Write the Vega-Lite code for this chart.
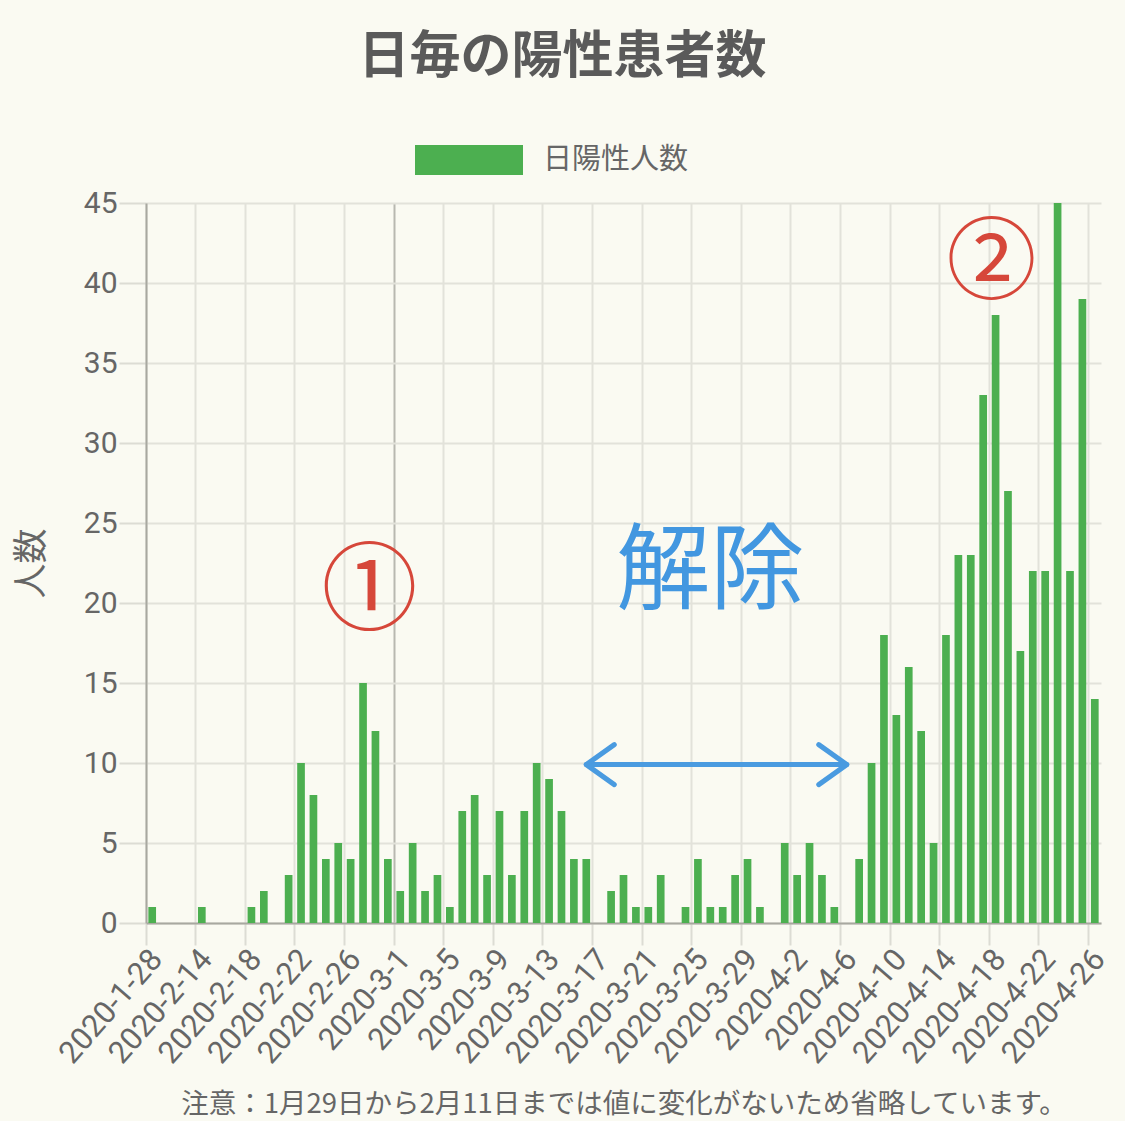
{
  "$schema": "https://vega.github.io/schema/vega-lite/v6.json",
  "width": 955,
  "height": 720,
  "autosize": {"type": "none"},
  "padding": {"left": 146, "top": 203, "right": 24, "bottom": 198},
  "background": "#FAFAF2",
  "title": {
    "text": "日毎の陽性患者数",
    "font": "Noto Sans CJK JP",
    "fontSize": 51,
    "fontWeight": "bold",
    "color": "#5A5A5A",
    "anchor": "middle",
    "frame": "bounds",
    "baseline": "alphabetic",
    "offset": 6
  },
  "config": {
    "view": {"stroke": null},
    "font": "Roboto, Noto Sans CJK JP"
  },
  "layer": [
    {
      "data": {
        "values": [
          {"date": "2020-1-28", "count": 1},
          {"date": "2020-2-11", "count": 0},
          {"date": "2020-2-12", "count": 0},
          {"date": "2020-2-13", "count": 0},
          {"date": "2020-2-14", "count": 1},
          {"date": "2020-2-15", "count": 0},
          {"date": "2020-2-16", "count": 0},
          {"date": "2020-2-17", "count": 0},
          {"date": "2020-2-18", "count": 1},
          {"date": "2020-2-19", "count": 2},
          {"date": "2020-2-20", "count": 0},
          {"date": "2020-2-21", "count": 3},
          {"date": "2020-2-22", "count": 10},
          {"date": "2020-2-23", "count": 8},
          {"date": "2020-2-24", "count": 4},
          {"date": "2020-2-25", "count": 5},
          {"date": "2020-2-26", "count": 4},
          {"date": "2020-2-27", "count": 15},
          {"date": "2020-2-28", "count": 12},
          {"date": "2020-2-29", "count": 4},
          {"date": "2020-3-1", "count": 2},
          {"date": "2020-3-2", "count": 5},
          {"date": "2020-3-3", "count": 2},
          {"date": "2020-3-4", "count": 3},
          {"date": "2020-3-5", "count": 1},
          {"date": "2020-3-6", "count": 7},
          {"date": "2020-3-7", "count": 8},
          {"date": "2020-3-8", "count": 3},
          {"date": "2020-3-9", "count": 7},
          {"date": "2020-3-10", "count": 3},
          {"date": "2020-3-11", "count": 7},
          {"date": "2020-3-12", "count": 10},
          {"date": "2020-3-13", "count": 9},
          {"date": "2020-3-14", "count": 7},
          {"date": "2020-3-15", "count": 4},
          {"date": "2020-3-16", "count": 4},
          {"date": "2020-3-17", "count": 0},
          {"date": "2020-3-18", "count": 2},
          {"date": "2020-3-19", "count": 3},
          {"date": "2020-3-20", "count": 1},
          {"date": "2020-3-21", "count": 1},
          {"date": "2020-3-22", "count": 3},
          {"date": "2020-3-23", "count": 0},
          {"date": "2020-3-24", "count": 1},
          {"date": "2020-3-25", "count": 4},
          {"date": "2020-3-26", "count": 1},
          {"date": "2020-3-27", "count": 1},
          {"date": "2020-3-28", "count": 3},
          {"date": "2020-3-29", "count": 4},
          {"date": "2020-3-30", "count": 1},
          {"date": "2020-3-31", "count": 0},
          {"date": "2020-4-1", "count": 5},
          {"date": "2020-4-2", "count": 3},
          {"date": "2020-4-3", "count": 5},
          {"date": "2020-4-4", "count": 3},
          {"date": "2020-4-5", "count": 1},
          {"date": "2020-4-6", "count": 0},
          {"date": "2020-4-7", "count": 4},
          {"date": "2020-4-8", "count": 10},
          {"date": "2020-4-9", "count": 18},
          {"date": "2020-4-10", "count": 13},
          {"date": "2020-4-11", "count": 16},
          {"date": "2020-4-12", "count": 12},
          {"date": "2020-4-13", "count": 5},
          {"date": "2020-4-14", "count": 18},
          {"date": "2020-4-15", "count": 23},
          {"date": "2020-4-16", "count": 23},
          {"date": "2020-4-17", "count": 33},
          {"date": "2020-4-18", "count": 38},
          {"date": "2020-4-19", "count": 27},
          {"date": "2020-4-20", "count": 17},
          {"date": "2020-4-21", "count": 22},
          {"date": "2020-4-22", "count": 22},
          {"date": "2020-4-23", "count": 45},
          {"date": "2020-4-24", "count": 22},
          {"date": "2020-4-25", "count": 39},
          {"date": "2020-4-26", "count": 14}
        ]
      },
      "mark": {"type": "bar", "width": {"band": 0.62}},
      "encoding": {
        "x": {
          "field": "date",
          "type": "nominal",
          "sort": null,
          "scale": {
            "paddingInner": 0,
            "paddingOuter": 0,
            "domain": ["2020-1-28","2020-2-11","2020-2-12","2020-2-13","2020-2-14","2020-2-15","2020-2-16","2020-2-17","2020-2-18","2020-2-19","2020-2-20","2020-2-21","2020-2-22","2020-2-23","2020-2-24","2020-2-25","2020-2-26","2020-2-27","2020-2-28","2020-2-29","2020-3-1","2020-3-2","2020-3-3","2020-3-4","2020-3-5","2020-3-6","2020-3-7","2020-3-8","2020-3-9","2020-3-10","2020-3-11","2020-3-12","2020-3-13","2020-3-14","2020-3-15","2020-3-16","2020-3-17","2020-3-18","2020-3-19","2020-3-20","2020-3-21","2020-3-22","2020-3-23","2020-3-24","2020-3-25","2020-3-26","2020-3-27","2020-3-28","2020-3-29","2020-3-30","2020-3-31","2020-4-1","2020-4-2","2020-4-3","2020-4-4","2020-4-5","2020-4-6","2020-4-7","2020-4-8","2020-4-9","2020-4-10","2020-4-11","2020-4-12","2020-4-13","2020-4-14","2020-4-15","2020-4-16","2020-4-17","2020-4-18","2020-4-19","2020-4-20","2020-4-21","2020-4-22","2020-4-23","2020-4-24","2020-4-25","2020-4-26"]
          },
          "axis": {
            "values": ["2020-1-28","2020-2-14","2020-2-18","2020-2-22","2020-2-26","2020-3-1","2020-3-5","2020-3-9","2020-3-13","2020-3-17","2020-3-21","2020-3-25","2020-3-29","2020-4-2","2020-4-6","2020-4-10","2020-4-14","2020-4-18","2020-4-22","2020-4-26"],
            "bandPosition": 0,
            "labelAngle": -49,
            "labelAlign": "right",
            "labelBaseline": "middle",
            "labelFont": "Roboto",
            "labelFontSize": 31,
            "labelColor": "#666666",
            "labelOffset": 5,
            "labelPadding": 9,
            "labelOverlap": false,
            "tickSize": 22,
            "tickColor": "#dcdcd4",
            "tickWidth": 2,
            "domainColor": "#a8a8a0",
            "domainWidth": 2,
            "grid": true,
            "gridColor": {"condition": {"test": "datum.value === '2020-3-1'", "value": "#b8b8b0"}, "value": "#e2e2da"},
            "gridWidth": 2,
            "title": "注意：1月29日から2月11日までは値に変化がないため省略しています。",
            "titleFont": "Noto Sans CJK JP",
            "titleFontSize": 27.5,
            "titleFontWeight": "normal",
            "titleColor": "#666666",
            "titlePadding": 22
          }
        },
        "y": {
          "field": "count",
          "type": "quantitative",
          "scale": {"domain": [0, 45], "nice": false},
          "axis": {
            "values": [0, 5, 10, 15, 20, 25, 30, 35, 40, 45],
            "labelFont": "Roboto",
            "labelFontSize": 30,
            "labelColor": "#666666",
            "labelPadding": 2,
            "tickSize": 27,
            "tickColor": "#dcdcd4",
            "tickWidth": 2,
            "domainColor": "#a8a8a0",
            "domainWidth": 2,
            "grid": true,
            "gridColor": "#e2e2da",
            "gridWidth": 2,
            "title": "人数",
            "titleFont": "Noto Sans CJK JP",
            "titleFontSize": 35,
            "titleFontWeight": "normal",
            "titleColor": "#666666",
            "titlePadding": 34
          }
        },
        "color": {
          "datum": "日陽性人数",
          "scale": {"range": ["#4CAF50"]},
          "legend": {
            "title": null,
            "orient": "none",
            "legendX": 293,
            "legendY": -73,
            "padding": 0,
            "symbolType": "M-1.8,-0.5H1.8V0.5H-1.8Z",
            "symbolSize": 3600,
            "symbolStrokeWidth": 0,
            "symbolOpacity": 1,
            "labelFont": "Noto Sans CJK JP",
            "labelFontSize": 29,
            "labelColor": "#666666",
            "labelOffset": 44
          }
        }
      }
    },
    {
      "data": {"values": [{"date": "2020-2-28", "count": 20.6, "t": "①"}]},
      "mark": {"type": "text", "font": "Noto Sans CJK JP", "fontSize": 96, "color": "#D6473A", "baseline": "middle", "align": "center", "dx": -6},
      "encoding": {
        "x": {"field": "date", "type": "nominal", "sort": null},
        "y": {"field": "count", "type": "quantitative"},
        "text": {"field": "t"}
      }
    },
    {
      "data": {"values": [{"date": "2020-4-18", "count": 41.1, "t": "②"}]},
      "mark": {"type": "text", "font": "Noto Sans CJK JP", "fontSize": 90, "color": "#D6473A", "baseline": "middle", "align": "center", "dx": -4},
      "encoding": {
        "x": {"field": "date", "type": "nominal", "sort": null},
        "y": {"field": "count", "type": "quantitative"},
        "text": {"field": "t"}
      }
    },
    {
      "data": {"values": [{"date": "2020-3-26", "count": 21.8, "t": "解除"}]},
      "mark": {"type": "text", "font": "Noto Sans CJK JP", "fontSize": 94, "color": "#4297E0", "baseline": "middle", "align": "center"},
      "encoding": {
        "x": {"field": "date", "type": "nominal", "sort": null},
        "y": {"field": "count", "type": "quantitative"},
        "text": {"field": "t"}
      }
    },
    {
      "data": {"values": [{"date": "2020-3-16", "date2": "2020-4-6", "count": 9.9}]},
      "mark": {"type": "rule", "color": "#4A9BE0", "strokeWidth": 5, "strokeCap": "round"},
      "encoding": {
        "x": {"field": "date", "type": "nominal", "sort": null},
        "x2": {"field": "date2"},
        "y": {"field": "count", "type": "quantitative"}
      }
    },
    {
      "data": {"values": [{"date": "2020-3-16", "count": 9.9}]},
      "mark": {"type": "point", "shape": "M1.4,-1L0,0L1.4,1", "size": 1600, "filled": false, "color": "#4A9BE0", "strokeWidth": 5, "strokeCap": "round", "strokeJoin": "round", "opacity": 1},
      "encoding": {
        "x": {"field": "date", "type": "nominal", "sort": null},
        "y": {"field": "count", "type": "quantitative"}
      }
    },
    {
      "data": {"values": [{"date": "2020-4-6", "count": 9.9}]},
      "mark": {"type": "point", "shape": "M-1.4,-1L0,0L-1.4,1", "size": 1600, "filled": false, "color": "#4A9BE0", "strokeWidth": 5, "strokeCap": "round", "strokeJoin": "round", "opacity": 1},
      "encoding": {
        "x": {"field": "date", "type": "nominal", "sort": null},
        "y": {"field": "count", "type": "quantitative"}
      }
    }
  ]
}
